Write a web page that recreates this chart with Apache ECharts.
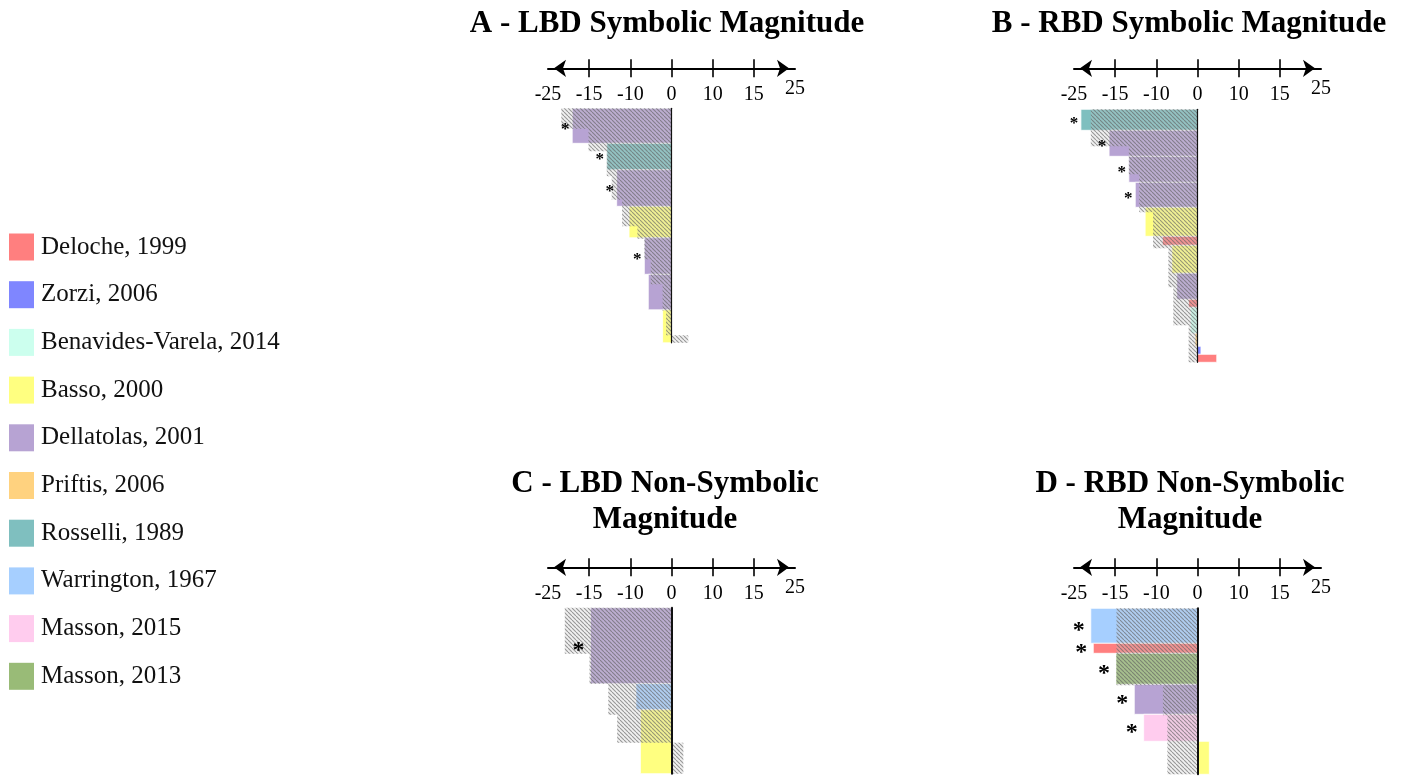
<!DOCTYPE html>
<html><head><meta charset="utf-8">
<script src="https://cdn.jsdelivr.net/npm/echarts@6/dist/echarts.min.js"></script>
<style>html,body{margin:0;padding:0;background:#fff}#main{width:1402px;height:776px}</style>
</head><body><div id="main"></div>
<script>
// ---------- DATA ----------
const studies = ['Deloche, 1999','Zorzi, 2006','Benavides-Varela, 2014','Basso, 2000','Dellatolas, 2001','Priftis, 2006','Rosselli, 1989','Warrington, 1967','Masson, 2015','Masson, 2013'];
const studyColors = ['#FF7F7F','#7F86FF','#CCFFEE','#FFFF80','#B7A3D3','#FFD27F','#7FBFBF','#A6CFFF','#FFCCEE','#99BB77'];
const tickLabels = ['-25','-15','-10','0','10','15','25'];
const panelTitles = ['A - LBD Symbolic Magnitude','B - RBD Symbolic Magnitude','C - LBD Non-Symbolic\nMagnitude','D - RBD Non-Symbolic\nMagnitude'];

// Panel A (colored = study bars, gray = hatched bars); n = bar thickness
const aStudy = [4,6,4,3,4,4,3];
const aValue = [-20.1,-13.1,-11.1,-8.6,-5.5,-4.7,-1.8];
const aN     = [35,26.5,36.5,31.5,36.5,35.5,33];
const aSig   = [1,1,1,0,1,0,0];
const aGrayValue = [-22.3,-16.8,-13.1,-12.1,-10.0,-6.9,-5.5,-4.2,-1.8,-1.1,3.4];
const aGrayN     = [20.5,22.5,25,23.5,26.5,12.5,20.5,25,26.5,24.5,7.5];

// Panel B
const bStudy = [6,4,4,4,3,0,3,4,0,2,5,1,0];
const bValue = [-23.6,-17.9,-13.9,-12.6,-10.6,-7.1,-5.2,-4.2,-1.8,-1.4,-0.5,0.7,3.9];
const bN     = [21,26,26,25,29,9,28,26,8,26,13,8,8];
const bSig   = [1,1,1,1,0,0,0,0,0,0,0,0,0];
const bGrayValue = [-21.6,-13.9,-11.8,-9.0,-5.9,-4.9,-1.8];
const bGrayN     = [37,28,38,36,39,38,37];

// Panel C
const cStudy = [4,7,3];
const cValue = [-16.4,-7.2,-6.3];
const cN     = [76,26,64];
const cSig   = [1,0,0];
const cGrayValue = [-21.6,-16.6,-12.8,-11.0,2.4];
const cGrayN     = [46,30,31,28,31];

// Panel D
const dStudy = [7,0,9,4,8,3];
const dValue = [-21.6,-21.1,-16.5,-12.8,-10.9,2.4];
const dN     = [35,10,31,30,27,33];
const dSig   = [1,1,1,1,1,0];
const dGrayValue = [-16.4,-7.0,-6.1];
const dGrayN     = [77,30,59];

// ---------- LAYOUT ----------
const panels = [
  {study:aStudy, value:aValue, n:aN, sig:aSig, gv:aGrayValue, gn:aGrayN, left:548, top:108.3, off:40, tx:667, ty:6, star:17, starOff:7, zw:1.2},
  {study:bStudy, value:bValue, n:bN, sig:bSig, gv:bGrayValue, gn:bGrayN, left:1074, top:109.3, off:41, tx:1189, ty:6, star:17, starOff:7, zw:1.2},
  {study:cStudy, value:cValue, n:cN, sig:cSig, gv:cGrayValue, gn:cGrayN, left:548, top:607.7, off:40.4, tx:665, ty:466, star:24, starOff:12, zw:2},
  {study:dStudy, value:dValue, n:dN, sig:dSig, gv:dGrayValue, gn:dGrayN, left:1074, top:608.3, off:41, tx:1190, ty:466, star:24, starOff:12, zw:2}
];
const W = 247;
const FONT = 'Liberation Serif';

function makeHatch() {
  const s = 4, c = document.createElement('canvas');
  c.width = s; c.height = s;
  const g = c.getContext('2d');
  g.fillStyle = 'rgba(205,205,205,0.28)';
  g.fillRect(0, 0, s, s);
  g.strokeStyle = 'rgba(95,95,95,0.62)';
  g.lineWidth = 1.1;
  for (const k of [-s, 0, s]) { g.beginPath(); g.moveTo(k, 0); g.lineTo(k + s, s); g.stroke(); }
  return c;
}
const hatch = { type: 'pattern', image: makeHatch(), repeat: 'repeat' };

function stack(vals, ns) {
  let y = 0;
  return vals.map((v, i) => { const r = [v, y, y + ns[i]]; y += ns[i]; return r; });
}
function sum(a) { return a.reduce((s, x) => s + x, 0); }

const grids = [], xAxes = [], yAxes = [], series = [], titles = [];
const catData = tickLabels.map((t, i) => i === tickLabels.length - 1 ? { value: t, textStyle: { lineHeight: 8 } } : t);

panels.forEach((p, pi) => {
  const total = Math.max(sum(p.n), sum(p.gn));
  grids.push({ left: p.left, top: p.top, width: W, height: total, containLabel: false });
  const baseCat = {
    type: 'category', gridIndex: pi, data: catData, position: 'top', offset: p.off, boundaryGap: false,
    splitLine: { show: false }
  };
  xAxes.push(Object.assign({}, baseCat, {
    axisLine: { show: true, onZero: false, lineStyle: { color: '#000', width: 2 }, symbol: ['arrow', 'arrow'], symbolSize: [13, 12], symbolOffset: [6, -6] },
    axisTick: { show: true, length: 9, interval: (i) => i > 0 && i < tickLabels.length - 1, lineStyle: { color: '#000', width: 1.6 } },
    axisLabel: { show: true, inside: true, interval: 0, margin: 16, fontFamily: FONT, fontSize: 20, color: '#000' }
  }));
  xAxes.push(Object.assign({}, baseCat, {
    axisLine: { show: false, onZero: false },
    axisTick: { show: true, inside: true, length: 9, interval: (i) => i > 0 && i < tickLabels.length - 1, lineStyle: { color: '#000', width: 1.6 } },
    axisLabel: { show: false }
  }));
  xAxes.push({ type: 'value', gridIndex: pi, min: -25, max: 25, show: false });
  yAxes.push({
    type: 'value', gridIndex: pi, inverse: true, min: 0, max: total, z: 10,
    axisLine: { show: true, onZero: true, lineStyle: { color: '#111', width: p.zw } },
    axisTick: { show: false }, axisLabel: { show: false }, splitLine: { show: false }
  });
  const xi = pi * 3 + 2;
  const colored = stack(p.value, p.n).map((r, i) => [r[0], r[1], r[2], p.study[i], p.sig[i]]);
  const gray = stack(p.gv, p.gn);
  const rectOf = (api) => {
    const v = api.value(0), y0 = api.value(1), y1 = api.value(2);
    const p0 = api.coord([v, y0]), p1 = api.coord([0, y1]);
    return { x: Math.min(p0[0], p1[0]), y: p0[1], width: Math.abs(p1[0] - p0[0]), height: p1[1] - p0[1] };
  };
  series.push({
    type: 'custom', xAxisIndex: xi, yAxisIndex: pi, z: 2, silent: true,
    encode: { x: 0, y: [1, 2] }, data: colored,
    renderItem: (params, api) => ({
      type: 'rect', shape: rectOf(api),
      style: { fill: studyColors[api.value(3)], stroke: '#fff', lineWidth: 0.8 }
    })
  });
  series.push({
    type: 'custom', xAxisIndex: xi, yAxisIndex: pi, z: 3, silent: true,
    encode: { x: 0, y: [1, 2] }, data: gray,
    renderItem: (params, api) => ({ type: 'rect', shape: rectOf(api), style: { fill: hatch } })
  });
  series.push({
    type: 'custom', xAxisIndex: xi, yAxisIndex: pi, z: 4, silent: true,
    encode: { x: 0, y: [1, 2] }, data: colored.filter(r => r[4] === 1),
    renderItem: (params, api) => {
      const v = api.value(0), yc = (api.value(1) + api.value(2)) / 2;
      const c = api.coord([v, yc]);
      return { type: 'text', x: c[0] - p.starOff, y: c[1] + p.star * 0.2,
        style: { text: '*', fontSize: p.star, fontFamily: FONT, fontWeight: 'bold', fill: '#000', align: 'center', verticalAlign: 'middle' } };
    }
  });
  titles.push({
    text: panelTitles[pi], left: p.tx, top: p.ty, textAlign: 'center', padding: 0,
    textStyle: { fontFamily: FONT, fontWeight: 'bold', fontSize: 31, lineHeight: 36, color: '#000' }
  });
});

// legend-only series
studies.forEach((s, i) => {
  series.push({ type: 'scatter', name: s, xAxisIndex: 2, yAxisIndex: 0, data: [], itemStyle: { color: studyColors[i], opacity: 1 } });
});

const chart = echarts.init(document.getElementById('main'), null, { renderer: 'canvas' });
chart.setOption({
  animation: false,
  backgroundColor: '#fff',
  title: titles,
  legend: {
    orient: 'vertical', left: 9, top: 233.5, padding: 0, itemWidth: 25, itemHeight: 27, itemGap: 20.7,
    icon: 'rect', selectedMode: false, data: studies,
    itemStyle: { opacity: 1 },
    textStyle: { fontFamily: FONT, fontSize: 25, color: '#111', padding: [0, 0, 0, 2] }
  },
  grid: grids, xAxis: xAxes, yAxis: yAxes, series: series
});
</script></body></html>
